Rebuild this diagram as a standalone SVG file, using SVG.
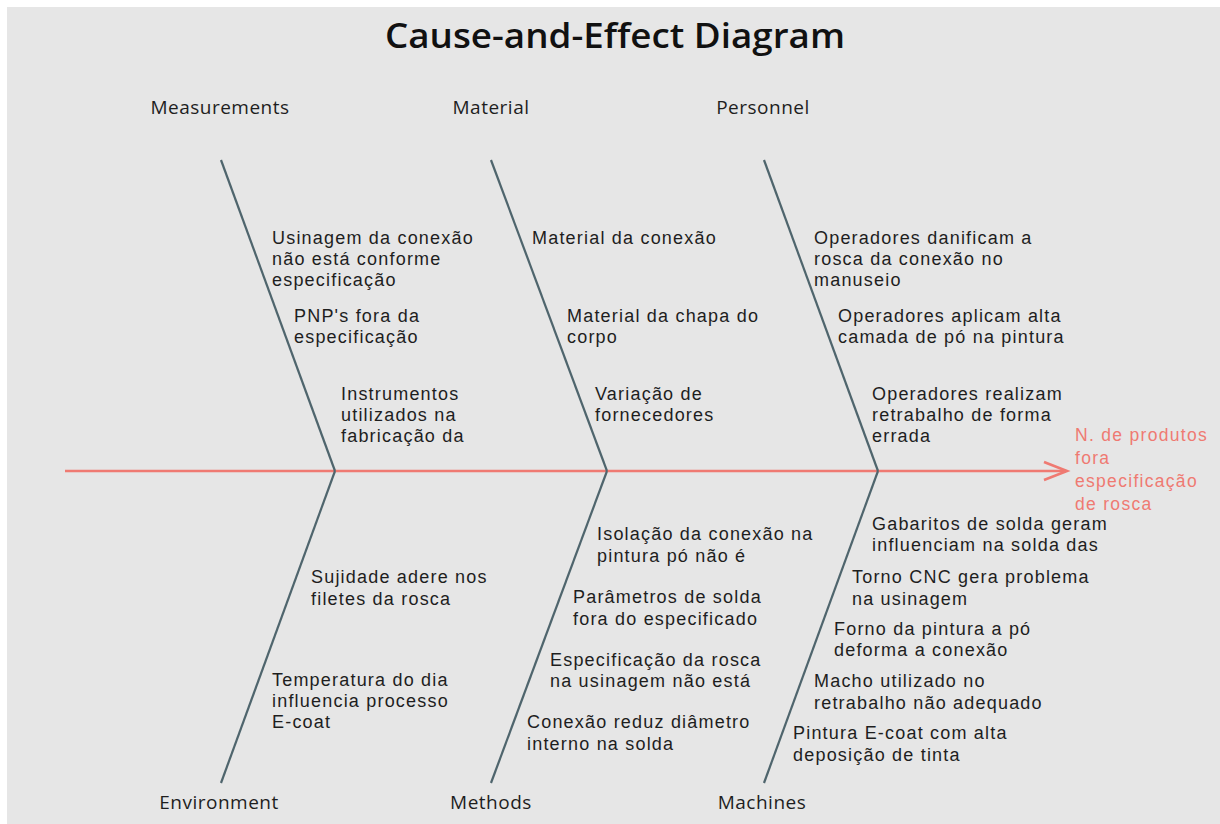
<svg xmlns="http://www.w3.org/2000/svg" width="1220" height="824" viewBox="0 0 1220 824">
<style>
.t{font-family:"Liberation Sans",Arial,sans-serif;font-size:18px;letter-spacing:1.2px;fill:#1e1e1e}
.c{font-family:"Open Sans","Noto Sans","Liberation Sans",sans-serif;font-size:19px;letter-spacing:0.5px;fill:#1e1e1e}
.e{font-family:"Liberation Sans",Arial,sans-serif;font-size:17.5px;letter-spacing:1.3px;fill:#ef7a72}
.b{stroke:#4f656d;stroke-width:2.2;fill:none}
</style>
<rect x="0" y="0" width="1220" height="824" fill="#ffffff"/>
<rect x="7" y="7" width="1213" height="817" fill="#e6e6e6"/>
<text x="615" y="48" text-anchor="middle" font-family="'Open Sans','Noto Sans','Liberation Sans',sans-serif" font-size="35" font-weight="600" fill="#111" textLength="460" lengthAdjust="spacingAndGlyphs">Cause-and-Effect Diagram</text>

<g id="connectors">
<line x1="65" y1="471" x2="1066" y2="471" stroke="#ef7a72" stroke-width="2.6"/>
<polyline points="1044,462 1067,471 1044,480" fill="none" stroke="#ef7a72" stroke-width="2.6"/>
<line class="b" x1="221" y1="160" x2="335" y2="471"/>
<line class="b" x1="491" y1="160" x2="607" y2="471"/>
<line class="b" x1="764" y1="160" x2="878" y2="471"/>
<line class="b" x1="335" y1="471" x2="221" y2="783"/>
<line class="b" x1="607" y1="471" x2="491" y2="783"/>
<line class="b" x1="878" y1="471" x2="764" y2="783"/>
</g>

<g id="effect">
<text class="e" x="1075" y="441">N. de produtos</text>
<text class="e" x="1075" y="464">fora</text>
<text class="e" x="1075" y="487">especificação</text>
<text class="e" x="1075" y="510">de rosca</text>
</g>

<g id="measurements">
<text class="c" x="220" y="114" text-anchor="middle">Measurements</text>
<text class="t" x="272" y="244">Usinagem da conexão</text>
<text class="t" x="272" y="265">não está conforme</text>
<text class="t" x="272" y="286">especificação</text>
<text class="t" x="294" y="322">PNP's fora da</text>
<text class="t" x="294" y="343">especificação</text>
<text class="t" x="341" y="400">Instrumentos</text>
<text class="t" x="341" y="421">utilizados na</text>
<text class="t" x="341" y="442">fabricação da</text>
</g>

<g id="material">
<text class="c" x="491" y="114" text-anchor="middle">Material</text>
<text class="t" x="532" y="244">Material da conexão</text>
<text class="t" x="567" y="322">Material da chapa do</text>
<text class="t" x="567" y="343">corpo</text>
<text class="t" x="595" y="400">Variação de</text>
<text class="t" x="595" y="421">fornecedores</text>
</g>

<g id="personnel">
<text class="c" x="763" y="114" text-anchor="middle">Personnel</text>
<text class="t" x="814" y="244">Operadores danificam a</text>
<text class="t" x="814" y="265">rosca da conexão no</text>
<text class="t" x="814" y="286">manuseio</text>
<text class="t" x="838" y="322">Operadores aplicam alta</text>
<text class="t" x="838" y="343">camada de pó na pintura</text>
<text class="t" x="872" y="400">Operadores realizam</text>
<text class="t" x="872" y="421">retrabalho de forma</text>
<text class="t" x="872" y="442">errada</text>
</g>

<g id="environment">
<text class="c" x="219" y="809" text-anchor="middle">Environment</text>
<text class="t" x="311" y="583">Sujidade adere nos</text>
<text class="t" x="311" y="605">filetes da rosca</text>
<text class="t" x="272" y="686">Temperatura do dia</text>
<text class="t" x="272" y="707">influencia processo</text>
<text class="t" x="272" y="728">E-coat</text>
</g>

<g id="methods">
<text class="c" x="491" y="809" text-anchor="middle">Methods</text>
<text class="t" x="597" y="540">Isolação da conexão na</text>
<text class="t" x="597" y="562">pintura pó não é</text>
<text class="t" x="573" y="603">Parâmetros de solda</text>
<text class="t" x="573" y="625">fora do especificado</text>
<text class="t" x="550" y="666">Especificação da rosca</text>
<text class="t" x="550" y="687">na usinagem não está</text>
<text class="t" x="527" y="728">Conexão reduz diâmetro</text>
<text class="t" x="527" y="750">interno na solda</text>
</g>

<g id="machines">
<text class="c" x="762" y="809" text-anchor="middle">Machines</text>
<text class="t" x="872" y="530">Gabaritos de solda geram</text>
<text class="t" x="872" y="551">influenciam na solda das</text>
<text class="t" x="852" y="583">Torno CNC gera problema</text>
<text class="t" x="852" y="605">na usinagem</text>
<text class="t" x="834" y="635">Forno da pintura a pó</text>
<text class="t" x="834" y="656">deforma a conexão</text>
<text class="t" x="814" y="687">Macho utilizado no</text>
<text class="t" x="814" y="709">retrabalho não adequado</text>
<text class="t" x="793" y="739">Pintura E-coat com alta</text>
<text class="t" x="793" y="761">deposição de tinta</text>
</g>
</svg>
